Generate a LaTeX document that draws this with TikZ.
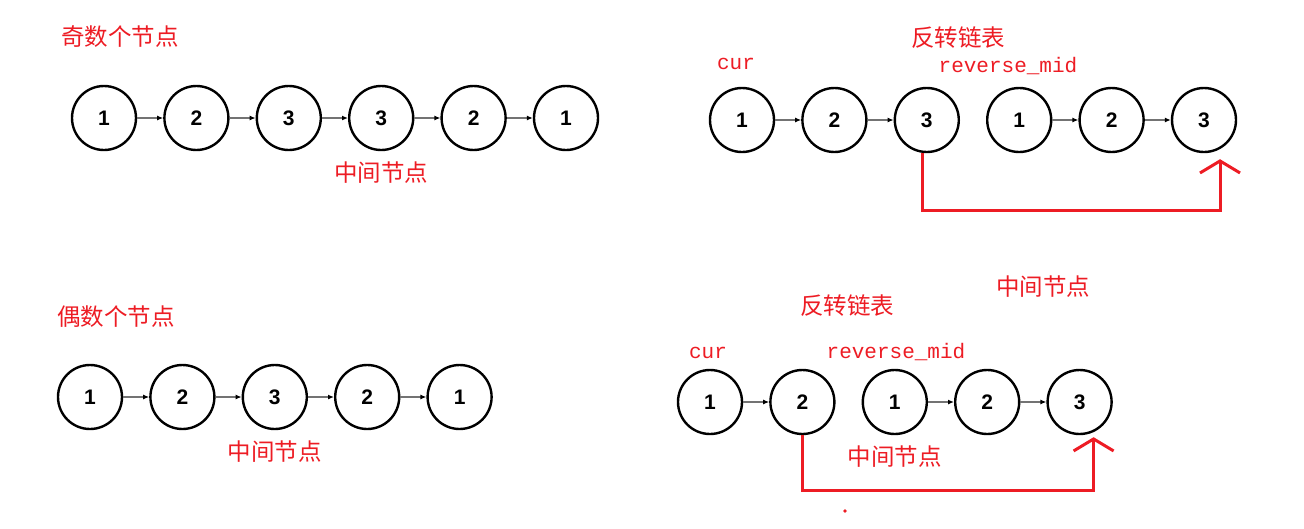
\documentclass[tikz,border=0pt]{standalone}
\usepackage{fontspec}
\setmainfont{Liberation Sans}
\setmonofont{Liberation Mono}
\newfontfamily\cjk{Noto Sans CJK SC}
\usetikzlibrary{arrows.meta, positioning}

\definecolor{markred}{RGB}{237,28,36}

\begin{document}
\begin{tikzpicture}[
    x=1pt, y=-1pt,
    node distance=26pt,
    ln/.style={circle, draw, line width=2.4pt, minimum size=64pt, inner sep=0pt, font=\fontsize{21}{21}\selectfont\bfseries},
    link/.style={-{Latex[length=6pt,width=5pt,color=black]}, line width=1.3pt, draw=black!55},
    note/.style={text=markred, font=\cjk\fontsize{23.5}{24}\selectfont, inner sep=0pt},
    ptr/.style={text=markred, font=\ttfamily\fontsize{21}{22}\selectfont, inner sep=0pt},
    redline/.style={draw=markred, line width=3pt, -{Straight Barb[length=12pt,width=40pt]}},
]
\useasboundingbox (0,0) rectangle (1304,528);

% odd number of nodes
\node[note] (oddtitle) at (120,37) {奇数个节点};
\node[ln] (a1) at (104,118) {1};
\node[ln, right=of a1] (a2) {2};
\node[ln, right=of a2] (a3) {3};
\node[ln, right=of a3] (a4) {3};
\node[ln, right=of a4] (a5) {2};
\node[ln, right=of a5] (a6) {1};
\node[note, below=10pt of a4] (amid) {中间节点};

\draw[link] (a1) -- (a2);
\draw[link] (a2) -- (a3);
\draw[link] (a3) -- (a4);
\draw[link] (a4) -- (a5);
\draw[link] (a5) -- (a6);

% odd, reversed second half
\node[note] (revtitle1) at (958,38) {反转链表};
\node[ln] (b1) at (742,120) {1};
\node[ln, right=of b1] (b2) {2};
\node[ln, right=of b2] (b3) {3};
\node[ln, right=of b3] (b4) {1};
\node[ln, right=of b4] (b5) {2};
\node[ln, right=of b5] (b6) {3};
\node[ptr] (bcur) at (736,64) {cur};
\node[ptr] (brev) at (1008,66) {reverse\_mid};

\draw[link] (b1) -- (b2);
\draw[link] (b2) -- (b3);
\draw[link] (b4) -- (b5);
\draw[link] (b5) -- (b6);
\draw[redline] ([xshift=-4pt]b3.south) -- ++(0,57) -| ([xshift=16pt,yshift=-6pt]b6.south);

% even number of nodes
\node[note] (eventitle) at (116,317) {偶数个节点};
\node[ln] (c1) at (90,397) {1};
\node[ln, right=of c1] (c2) {2};
\node[ln, right=of c2] (c3) {3};
\node[ln, right=of c3] (c4) {2};
\node[ln, right=of c4] (c5) {1};
\node[note, below=10pt of c3] (cmid) {中间节点};

\draw[link] (c1) -- (c2);
\draw[link] (c2) -- (c3);
\draw[link] (c3) -- (c4);
\draw[link] (c4) -- (c5);

% even, reversed second half
\node[note] (revtitle2) at (847,306) {反转链表};
\node[note] (dmidtop) at (1043,287) {中间节点};
\node[ln] (d1) at (710,402) {1};
\node[ln, right=of d1] (d2) {2};
\node[ln, right=of d2] (d3) {1};
\node[ln, right=of d3] (d4) {2};
\node[ln, right=of d4] (d5) {3};
\node[ptr] (dcur) at (708,353) {cur};
\node[ptr] (drev) at (896,352) {reverse\_mid};
\node[note, below=10pt of d3] (dmid) {中间节点};

\draw[link] (d1) -- (d2);
\draw[link] (d3) -- (d4);
\draw[link] (d4) -- (d5);
\draw[redline] (d2.south) -- ++(0,55) -| ([xshift=14pt,yshift=-2pt]d5.south);

\fill[markred] (845,511) circle (1.8pt);

\end{tikzpicture}
\end{document}
